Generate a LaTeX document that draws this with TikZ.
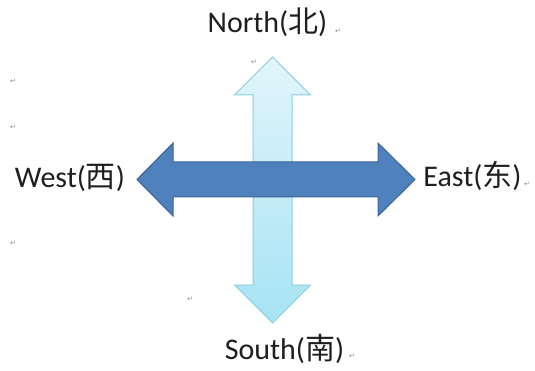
\documentclass[tikz,border=0pt]{standalone}
\usepackage{fontspec}
\setmainfont{Carlito}
\newfontfamily\cjk{Noto Sans CJK SC}
\newfontfamily\symfont{DejaVu Sans}
\definecolor{shaftblue}{HTML}{4F81BD}
\definecolor{shaftedge}{HTML}{3C6494}
\definecolor{paletop}{HTML}{E2F5FB}
\definecolor{palebot}{HTML}{A6E3F4}
\definecolor{paleedge}{HTML}{8ACFE0}
\newcommand{\retmark}{{\symfont\fontsize{7}{8}\selectfont\textcolor{black!45}{↵}}}
\tikzset{
  dirlabel/.style={anchor=base, inner sep=0pt, text=black!88, font=\fontsize{30}{36}\selectfont},
  retlabel/.style={inner sep=0pt}
}
\begin{document}
\begin{tikzpicture}[x=1pt, y=-1pt]
\useasboundingbox[fill=white] (0,0) rectangle (535,371);
% north-south arrow
\draw[draw=paleedge, line width=1pt, top color=paletop, bottom color=palebot]
  (272.5,57) -- (310.5,95) -- (292,95) -- (292,285) -- (310.5,285) -- (272.5,323)
  -- (234.5,285) -- (253,285) -- (253,95) -- (234.5,95) -- cycle;
% west-east arrow
\draw[draw=shaftedge, line width=1pt, fill=shaftblue]
  (137,179.5) -- (173,143) -- (173,162) -- (378,162) -- (378,143) -- (415,179.5)
  -- (378,216) -- (378,197) -- (173,197) -- (173,216) -- cycle;
% labels
\node[dirlabel] (north) at (267.5,33) {North({\cjk 北})};
\node[dirlabel] (south) at (284.5,359) {South({\cjk 南})};
\node[dirlabel] (west) at (70,188) {West({\cjk 西})};
\node[dirlabel] (east) at (472.5,187) {East({\cjk 东})};
% paragraph marks
\foreach \px/\py [count=\i] in {338/31,527/184,352/356,13/81,13/127,13/243,254/62,190/299}{
  \node[retlabel] (ret\i) at (\px,\py) {\retmark};
}
\end{tikzpicture}
\end{document}
